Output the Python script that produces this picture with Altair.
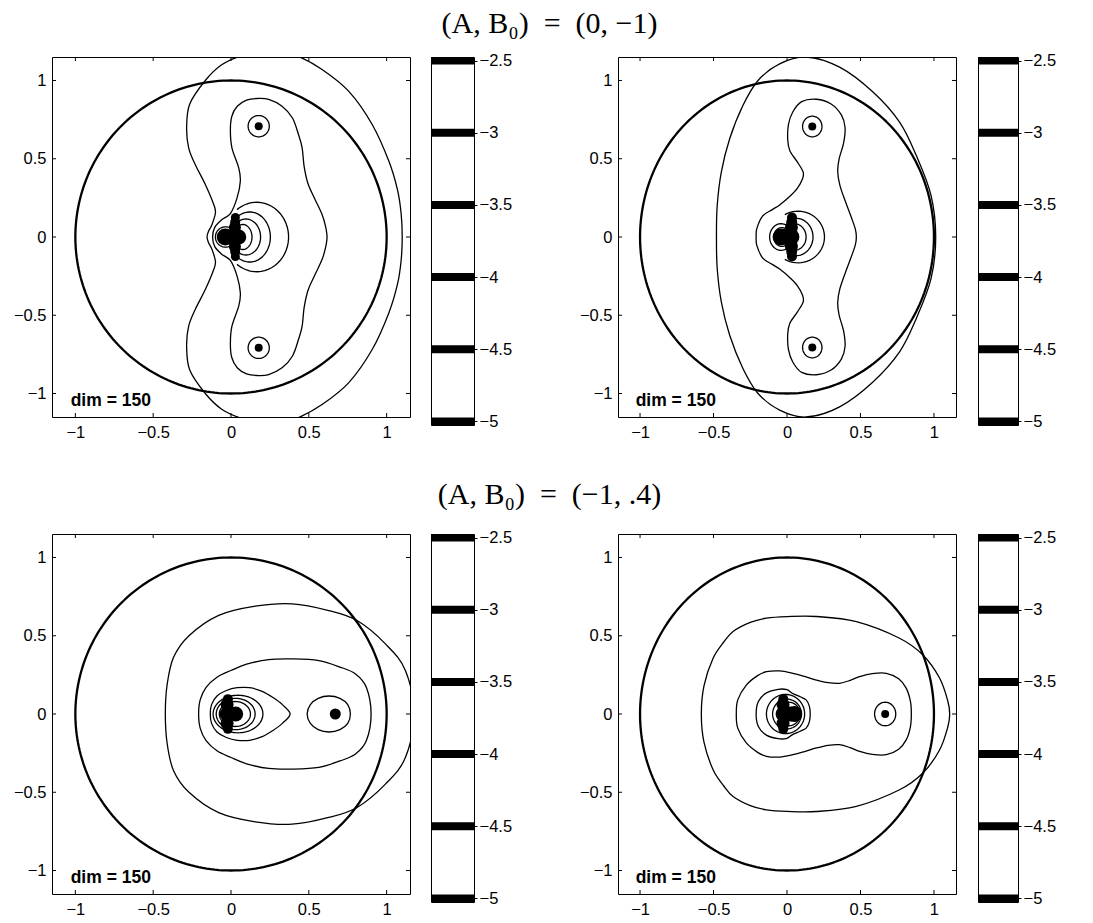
import altair as alt
import numpy as np
import pandas as pd

# ---------------- data ----------------
TICKS = [-1, -0.5, 0, 0.5, 1]
LEVELS = [-2.5, -3, -3.5, -4, -4.5, -5]
DOMAIN = [-1.15, 1.15]
CB_DOMAIN = [-5.025, -2.475]
TITLES = ["(A, B\u2080)\u2002=\u2002(0, \u22121)", "(A, B\u2080)\u2002=\u2002(\u22121, .4)"]
LABEL = "dim = 150"
UNIT = (0.0, 0.0, 1.0, 1.0)  # bold unit circle (cx, cy, rx, ry)

# traced contours: upper halves (symmetric about the real axis)
P1_TRACED = {
    "outer": [(-0.154, 0.0), (-0.145, 0.035), (-0.122, 0.08), (-0.10, 0.155), (-0.111, 0.208),
              (-0.165, 0.336), (-0.23, 0.463), (-0.272, 0.57), (-0.285, 0.7), (-0.265, 0.85),
              (-0.165, 1.0), (-0.06, 1.1), (0.07, 1.16), (0.25, 1.21), (0.42, 1.16), (0.585, 1.07),
              (0.757, 0.93), (0.907, 0.719), (1.014, 0.485), (1.07, 0.3), (1.093, 0.15), (1.10, 0.0)],
    "mid": [(-0.118, 0.0), (-0.105, 0.06), (-0.06, 0.11), (-0.004, 0.15), (0.039, 0.25),
            (0.06, 0.357), (0.05, 0.44), (0.006, 0.57), (-0.004, 0.68), (0.005, 0.77),
            (0.04, 0.835), (0.1, 0.875), (0.17, 0.885), (0.242, 0.879), (0.328, 0.836),
            (0.395, 0.76), (0.435, 0.65), (0.457, 0.57), (0.47, 0.45), (0.495, 0.34),
            (0.54, 0.24), (0.585, 0.144), (0.607, 0.07), (0.617, 0.0)],
}
P1_LOOPS = [(0.178, 0.708, 0.068, 0.068), (0.178, -0.708, 0.068, 0.068)]
P1_ARCS = [(0.165, 0, 0.205, 0.222, -128, 128), (0.12, 0, 0.133, 0.16, -125, 125),
           (0.095, 0, 0.095, 0.115, -120, 120), (0.075, 0, 0.06, 0.08, -115, 115),
           (-0.035, 0, 0.065, 0.065, 70, 290)]
P1_DOTS = [(-0.037, 0, 8.5), (0.0, 0, 7.5), (0.05, 0, 7.5), (0.025, 0.06, 6), (0.025, -0.06, 6),
           (0.027, 0.095, 5), (0.027, -0.095, 5), (0.028, 0.125, 4.5), (0.028, -0.125, 4.5),
           (0.178, 0.708, 4), (0.178, -0.708, 4)]

P2_TRACED = {
    "outer": [(-0.48, 0.0), (-0.475, 0.2), (-0.447, 0.415), (-0.39, 0.628), (-0.3, 0.84),
              (-0.197, 1.0), (-0.05, 1.106), (0.13, 1.15), (0.358, 1.085), (0.585, 0.926),
              (0.766, 0.734), (0.88, 0.52), (0.98, 0.266), (1.012, 0.0)],
    "mid": [(-0.21, 0.0), (-0.205, 0.055), (-0.165, 0.135), (-0.1, 0.175), (-0.05, 0.205),
            (0.02, 0.26), (0.07, 0.31), (0.105, 0.37), (0.11, 0.415), (0.07, 0.48), (0.02, 0.55),
            (0.005, 0.62), (0.01, 0.72), (0.04, 0.8), (0.1, 0.865), (0.2, 0.88), (0.3, 0.85),
            (0.37, 0.78), (0.395, 0.7), (0.385, 0.6), (0.355, 0.5), (0.345, 0.42), (0.36, 0.33),
            (0.4, 0.22), (0.44, 0.12), (0.465, 0.05), (0.472, 0.0)],
}
P2_LOOPS = [(0.172, 0.706, 0.066, 0.066), (0.172, -0.706, 0.066, 0.066)]
P2_ARCS = [(0.075, 0, 0.18, 0.165, -120, 120), (0.06, 0, 0.117, 0.12, -115, 115),
           (0.05, 0, 0.08, 0.085, -110, 110), (-0.04, 0, 0.078, 0.085, 65, 295),
           (-0.035, 0, 0.055, 0.06, 65, 295)]
P2_DOTS = [(-0.04, 0, 8.5), (0.0, 0, 8), (0.03, 0, 8), (0.03, 0.06, 6.5), (0.03, -0.06, 6.5),
           (0.032, 0.095, 5.5), (0.032, -0.095, 5.5), (0.034, 0.125, 5), (0.034, -0.125, 5),
           (0.172, 0.706, 4), (0.172, -0.706, 4)]

P3_TRACED = {
    "outer": [(-0.422, 0.0), (-0.41, 0.19), (-0.369, 0.362), (-0.27, 0.5), (-0.079, 0.63),
              (0.156, 0.689), (0.392, 0.704), (0.628, 0.661), (0.81, 0.597), (0.992, 0.448),
              (1.121, 0.277), (1.175, 0.0)],
    "band": [(-0.208, 0.0), (-0.198, 0.09), (-0.16, 0.17), (-0.09, 0.235), (0.0, 0.278),
             (0.1, 0.318), (0.242, 0.348), (0.4, 0.352), (0.564, 0.341), (0.7, 0.3),
             (0.8, 0.256), (0.87, 0.17), (0.9, 0.0)],
    "tear": [(-0.133, 0.0), (-0.125, 0.06), (-0.09, 0.115), (-0.03, 0.15), (0.04, 0.168),
             (0.12, 0.168), (0.2, 0.145), (0.27, 0.105), (0.33, 0.06), (0.38, 0.0)],
    "egg": [(0.489, 0.0), (0.51, 0.06), (0.56, 0.1), (0.63, 0.115), (0.7, 0.1), (0.75, 0.06),
            (0.767, 0.0)],
}
P3_LOOPS = [(0.045, 0, 0.16, 0.12), (0.03, 0, 0.125, 0.1), (0.025, 0, 0.1, 0.08)]
P3_ARCS = []
P3_DOTS = [(-0.025, 0, 7.5), (-0.025, 0.06, 6.5), (-0.025, -0.06, 6.5), (-0.02, 0.095, 5),
           (-0.02, -0.095, 5), (0.0, 0, 7), (0.03, 0, 7.5), (0.67, 0, 5.5)]

P4_TRACED = {
    "outer": [(-0.583, 0.0), (-0.565, 0.18), (-0.503, 0.356), (-0.43, 0.46), (-0.367, 0.527),
              (-0.25, 0.585), (-0.14, 0.612), (0.0, 0.622), (0.2, 0.623), (0.472, 0.59),
              (0.766, 0.484), (0.925, 0.377), (1.039, 0.228), (1.095, 0.08), (1.107, 0.0)],
    "peanut": [(-0.345, 0.0), (-0.335, 0.09), (-0.277, 0.185), (-0.2, 0.245), (-0.14, 0.27),
               (-0.05, 0.275), (0.04, 0.26), (0.12, 0.24), (0.2, 0.217), (0.28, 0.2),
               (0.358, 0.196), (0.43, 0.215), (0.494, 0.239), (0.58, 0.258), (0.676, 0.26),
               (0.76, 0.225), (0.812, 0.164), (0.84, 0.08), (0.846, 0.0)],
    "inner": [(-0.21, 0.0), (-0.195, 0.08), (-0.14, 0.135), (-0.06, 0.158), (0.0, 0.155),
              (0.04, 0.13), (0.09, 0.11), (0.13, 0.09), (0.152, 0.05), (0.158, 0.0)],
}
P4_LOOPS = [(0.668, 0, 0.072, 0.075), (-0.01, 0, 0.13, 0.125), (0.0, 0, 0.098, 0.095),
            (0.012, 0, 0.077, 0.075)]
P4_ARCS = []
P4_DOTS = [(-0.027, 0, 7.5), (-0.027, 0.06, 6.5), (-0.027, -0.06, 6.5), (-0.025, 0.095, 5),
           (-0.025, -0.095, 5), (0.02, 0, 7.5), (0.05, 0, 8), (0.668, 0, 4)]


# ---------------- helpers ----------------
def mirror(upper):
    return list(upper) + [(x, -y) for x, y in reversed(upper[1:-1])]


def ell(cx, cy, rx, ry, a0=0.0, a1=360.0, n=72):
    closed = (a1 - a0) >= 360
    t = np.radians(np.linspace(a0, a1, n, endpoint=not closed))
    return [(cx + rx * np.cos(v), cy + ry * np.sin(v)) for v in t]


def to_df(curves):
    out = []
    for name, pts in curves.items():
        for i, (x, y) in enumerate(pts):
            out.append({"c": name, "i": i, "x": float(x), "y": float(y)})
    return pd.DataFrame(out)


H = 360


def panel(traced, loops, arcs, dots, width):
    xs = alt.Scale(domain=DOMAIN, nice=False, zero=False)
    ys = alt.Scale(domain=DOMAIN, nice=False, zero=False)
    X = alt.X("x:Q", scale=xs, axis=alt.Axis(values=TICKS, format="~g", title=None,
                                              labelPadding=7, labelFlush=False))
    Y = alt.Y("y:Q", scale=ys, axis=alt.Axis(values=TICKS, format="~g", title=None,
                                              labelPadding=6, labelFlush=False))
    smooth = {f"t{k}": mirror(v) for k, v in traced.items()}
    circles = {f"l{j}": ell(cx, cy, rx, ry) for j, (cx, cy, rx, ry) in enumerate(loops)}
    opened = {f"a{j}": ell(cx, cy, rx, ry, a0, a1, 40)
              for j, (cx, cy, rx, ry, a0, a1) in enumerate(arcs)}
    unit = {"u": ell(*UNIT, n=240)}

    layers = [
        alt.Chart(to_df(unit)).mark_line(interpolate="linear-closed", clip=True, color="black",
                                         strokeWidth=2.3).encode(x=X, y=Y, detail="c:N", order="i:Q"),
        alt.Chart(to_df(smooth)).mark_line(interpolate="cardinal-closed", clip=True, color="black",
                                           strokeWidth=1.3).encode(x=X, y=Y, detail="c:N", order="i:Q"),
        alt.Chart(to_df(circles)).mark_line(interpolate="linear-closed", clip=True, color="black",
                                            strokeWidth=1.3).encode(x=X, y=Y, detail="c:N", order="i:Q"),
    ]
    if opened:
        layers.append(alt.Chart(to_df(opened)).mark_line(clip=True, color="black", strokeWidth=1.3)
                      .encode(x=X, y=Y, detail="c:N", order="i:Q"))
    # Vega circle symbols: radius = sqrt(size) / 2
    dot_df = pd.DataFrame({"x": [d[0] for d in dots], "y": [d[1] for d in dots],
                           "s": [4 * d[2] ** 2 for d in dots]})
    layers.append(alt.Chart(dot_df).mark_circle(color="black", opacity=1, clip=True)
                  .encode(x=X, y=Y, size=alt.Size("s:Q", scale=None, legend=None)))
    tx = pd.DataFrame({"x": TICKS})
    ty = pd.DataFrame({"y": TICKS})
    layers += [
        alt.Chart(tx).mark_rule(color="black", strokeWidth=1).encode(x=X, y=alt.value(H), y2=alt.value(H - 4)),
        alt.Chart(tx).mark_rule(color="black", strokeWidth=1).encode(x=X, y=alt.value(0), y2=alt.value(4)),
        alt.Chart(ty).mark_rule(color="black", strokeWidth=1).encode(y=Y, x=alt.value(0), x2=alt.value(4)),
        alt.Chart(ty).mark_rule(color="black", strokeWidth=1).encode(y=Y, x=alt.value(width), x2=alt.value(width - 4)),
    ]
    lab = pd.DataFrame({"x": [-1.03], "y": [-1.08], "t": [LABEL]})
    layers.append(alt.Chart(lab).mark_text(align="left", baseline="alphabetic", font="Liberation Sans",
                                           fontWeight="bold", fontSize=17.5, color="black")
                  .encode(x=X, y=Y, text="t:N"))
    return alt.layer(*layers).properties(
        width=width, height=H,
        title=alt.TitleParams(" ", fontSize=1, offset=3))


def colorbar(w):
    lev = pd.DataFrame({"level": LEVELS})
    return alt.Chart(lev).mark_rule(color="black", strokeWidth=8, clip=True).encode(
        y=alt.Y("level:Q", scale=alt.Scale(domain=CB_DOMAIN, nice=False, zero=False),
                axis=alt.Axis(values=LEVELS, format="~g", title=None, orient="right",
                              ticks=True, tickSize=3, tickColor="black", labelPadding=2)),
        x=alt.value(0), x2=alt.value(w)).properties(width=w, height=368)


def row(title, left, right, offset):
    return alt.hconcat(
        alt.hconcat(left, colorbar(43), spacing=19),
        alt.hconcat(right, colorbar(40), spacing=20),
        spacing=65,
        title=alt.TitleParams(title, font="Liberation Serif", fontSize=30, fontWeight="normal",
                              anchor="middle", offset=offset, dx=15, color="black"))


p1 = panel(P1_TRACED, P1_LOOPS, P1_ARCS, P1_DOTS, 358)
p2 = panel(P2_TRACED, P2_LOOPS, P2_ARCS, P2_DOTS, 338)
p3 = panel(P3_TRACED, P3_LOOPS, P3_ARCS, P3_DOTS, 358)
p4 = panel(P4_TRACED, P4_LOOPS, P4_ARCS, P4_DOTS, 338)

chart = alt.vconcat(
    row(TITLES[0], p1, p2, 13),
    row(TITLES[1], p3, p4, 19),
    spacing=39,
).properties(
    padding={"left": 12, "top": 9, "right": 0, "bottom": 0},
    background="white",
).configure_view(stroke="black", strokeWidth=1).configure_axis(
    labelFont="Liberation Sans", labelFontSize=16.5, labelColor="black",
    grid=False, domain=False, ticks=False,
)

chart.save("out.html", embed_options={"renderer": "svg", "actions": False})
